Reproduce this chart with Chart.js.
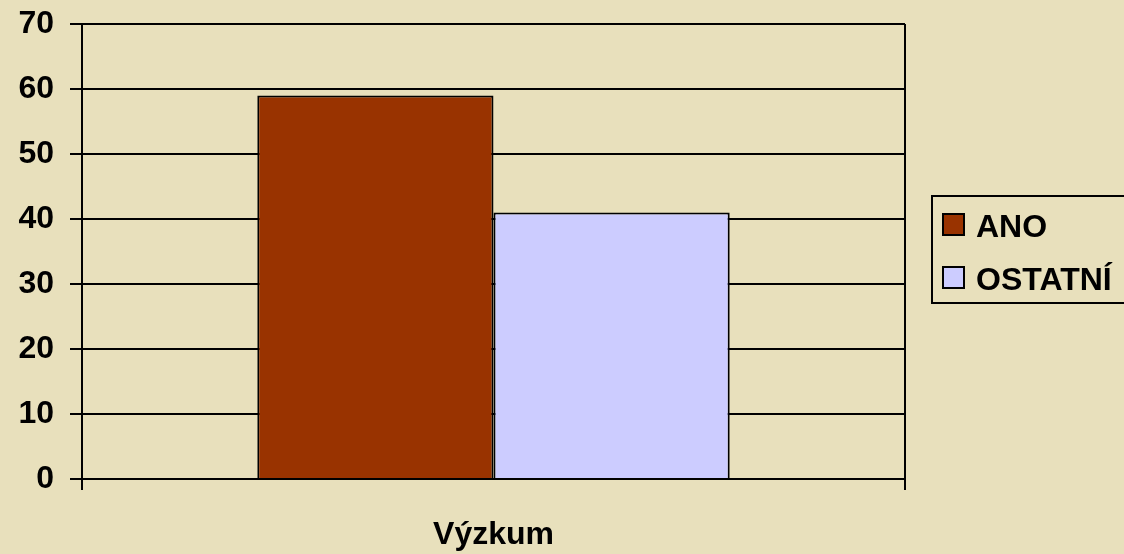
<!DOCTYPE html>
<html>
<head>
<meta charset="utf-8">
<script src="https://cdn.jsdelivr.net/npm/chart.js@4"></script>
<style>
  html, body { margin: 0; padding: 0; background: #E8E0BC; }
  #wrap { width: 1124px; height: 554px; position: relative; }
</style>
</head>
<body>
<div id="wrap"><canvas id="c" width="1124" height="554"></canvas></div>
<script>
const categories = ["Výzkum"];
const seriesNames = ["ANO", "OSTATNÍ"];
const anoValues = [59];
const ostatniValues = [41];
const yTicks = [0, 10, 20, 30, 40, 50, 60, 70];

const FONT = "'Liberation Sans', Arial, sans-serif";

const legendPlugin = {
  id: 'boxLegend',
  afterDraw(chart) {
    const ctx = chart.ctx;
    ctx.save();
    ctx.lineWidth = 2;
    ctx.strokeStyle = '#000';
    ctx.strokeRect(932, 196, 220, 107);
    const rows = [237, 290];
    chart.data.datasets.forEach((ds, i) => {
      const by = rows[i];
      ctx.fillStyle = ds.backgroundColor;
      ctx.fillRect(943, by - 23, 21, 21);
      ctx.strokeRect(943, by - 23, 21, 21);
      ctx.fillStyle = '#000';
      ctx.font = "bold 32px " + FONT;
      ctx.textBaseline = 'alphabetic';
      ctx.textAlign = 'left';
      ctx.fillText(ds.label, 976, by);
    });
    ctx.restore();
  }
};

new Chart(document.getElementById('c'), {
  type: 'bar',
  data: {
    labels: categories,
    datasets: [
      { label: seriesNames[0], data: anoValues, backgroundColor: '#993300', borderColor: '#000', borderWidth: 2 },
      { label: seriesNames[1], data: ostatniValues, backgroundColor: '#CCCCFF', borderColor: '#000', borderWidth: 2 }
    ]
  },
  options: {
    responsive: false,
    animation: false,
    devicePixelRatio: 1,
    layout: { padding: { top: 24, right: 219, left: 0, bottom: 0 } },
    plugins: { legend: { display: false }, tooltip: { enabled: false } },
    datasets: { bar: { categoryPercentage: 0.574, barPercentage: 1 } },
    scales: {
      x: {
        grid: { display: true, offset: true, color: '#000', lineWidth: 2, tickLength: 11, drawOnChartArea: true },
        border: { display: true, color: '#000', width: 2 },
        ticks: { color: '#000', font: { family: FONT, size: 32, weight: 'bold' }, padding: 26 },
        afterFit(scale) { scale.height = 75; scale.paddingLeft = 0; scale.paddingRight = 0; }
      },
      y: {
        min: 0, max: 70,
        afterBuildTicks(scale) { scale.ticks = yTicks.map(v => ({ value: v })); },
        grid: { color: '#000', lineWidth: 2, tickLength: 12 },
        border: { display: true, color: '#000', width: 2 },
        ticks: { color: '#000', font: { family: FONT, size: 32, weight: 'bold' }, padding: 16 },
        afterFit(scale) { scale.width = 82; scale.paddingTop = 0; scale.paddingBottom = 0; }
      }
    }
  },
  plugins: [legendPlugin]
});
</script>
</body>
</html>
